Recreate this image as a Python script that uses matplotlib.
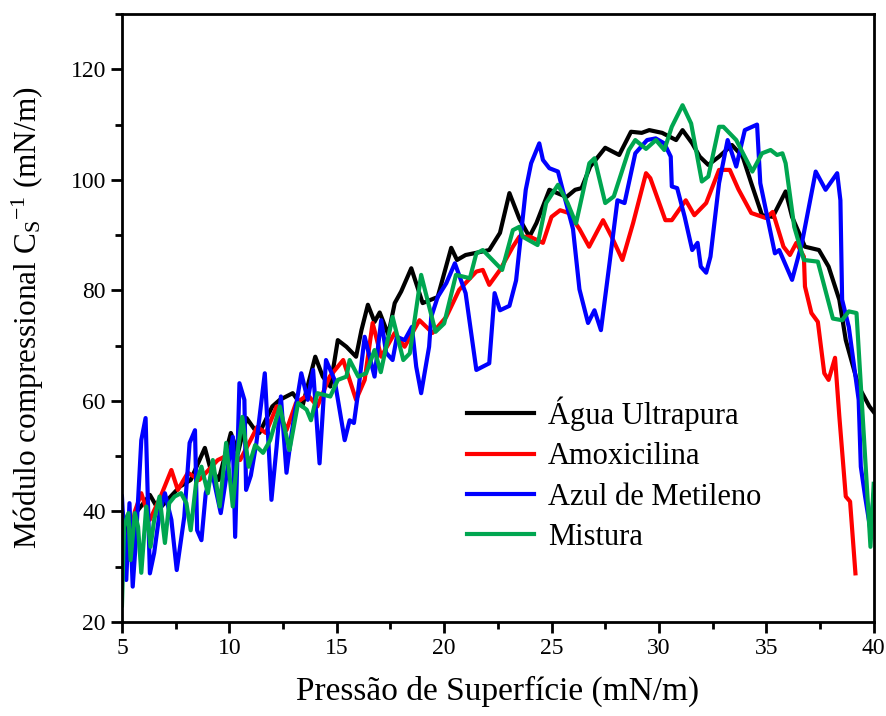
import numpy as np
import matplotlib
matplotlib.use('Agg')
import matplotlib.pyplot as plt
from matplotlib.ticker import MultipleLocator

plt.rcParams['font.family'] = ['Liberation Serif', 'DejaVu Serif']
plt.rcParams['mathtext.fontset'] = 'custom'
plt.rcParams['mathtext.rm'] = 'Liberation Serif'
plt.rcParams['mathtext.it'] = 'Liberation Serif'

# Água Ultrapura
x_agua = [5.0, 5.3, 5.7, 6.3, 6.7, 7.1, 7.7, 8.2, 8.86, 9.1, 9.5, 10.07, 10.4, 10.8, 11.2, 11.4, 12.0, 12.35,
          12.95, 13.4, 14.0, 14.35, 14.7, 15.05, 15.45, 15.9, 16.15, 16.45, 16.76, 17.0, 17.4, 17.7, 18.0, 18.47,
          19.0, 19.7, 20.33, 20.6, 21.0, 21.5, 22.1, 22.6, 23.04, 23.5, 23.97, 24.3, 24.9, 25.7, 26.1, 26.4, 26.8,
          27.5, 28.15, 28.7, 29.2, 29.55, 30.15, 30.8, 31.1, 31.55, 31.9, 32.3, 32.8, 33.4, 33.9, 34.3, 34.8, 35.3,
          35.9, 36.2, 36.8, 37.45, 37.9, 38.4, 38.7, 39.3, 39.8, 40.0]
y_agua = [40.2, 36, 40, 43, 40.3, 42, 44.5, 45.7, 51.5, 48, 45.7, 54.2, 50.6, 56.9, 54.7, 54.2, 59, 60.2,
          61.4, 59, 68, 64.4, 62.6, 71, 69.8, 68, 72.8, 77.4, 74.3, 76, 72, 77.7, 79.8, 84,
          77.7, 78.8, 87.7, 85.5, 86.4, 86.8, 87.3, 90.4, 97.6, 93, 89.7, 92.2, 98.2, 96.9, 98.2, 98.5, 102.4,
          105.8, 104.5, 108.7, 108.5, 109, 108.5, 107.2, 109, 106.6, 104.2, 102.7, 104.2, 106.3, 104.2, 99.4, 93.6, 93.3,
          97.9, 93.3, 87.9, 87.3, 84.3, 78.3, 71, 62.6, 59, 58]

# Amoxicilina
x_amox = [5.0, 5.3, 5.6, 5.9, 6.3, 6.8, 7.3, 7.6, 8.07, 8.6, 9.46, 10.15, 10.5, 11.0, 11.3, 11.7, 12.2, 12.66,
          13.1, 13.65, 14.1, 14.67, 15.3, 15.9, 16.3, 16.67, 17.07, 17.7, 18.16, 18.85, 19.46, 20.1, 20.7, 21.5,
          21.8, 22.1, 22.6, 23.2, 23.5, 24.0, 24.6, 25.0, 25.4, 25.8, 26.3, 26.75, 27.4, 27.8, 28.3, 28.8, 29.4,
          29.6, 30.3, 30.6, 31.25, 31.65, 32.2, 32.8, 33.3, 33.7, 34.3, 34.97, 35.3, 35.8, 36.1, 36.4, 36.75, 36.8,
          37.1, 37.4, 37.7, 37.9, 38.2, 38.4, 38.7, 38.9, 39.15]
y_amox = [38, 33, 40, 43.3, 38.5, 42.7, 47.5, 43.9, 47, 45.7, 49.3, 50.6, 49.3, 53, 55.3, 54.2, 59, 54.7,
          59.6, 61.1, 59, 64.4, 67.4, 60.2, 63.8, 74.1, 68, 72.3, 69.8, 74.6, 72.3, 75.2, 80.1, 83.4,
          83.7, 81, 83.7, 87.9, 89.7, 89.7, 88.6, 93.3, 94.5, 94, 91.1, 87.9, 92.7, 89.7, 85.5, 92.2, 101.2,
          100.3, 92.7, 92.7, 96.3, 93.6, 95.8, 101.8, 101.8, 98.3, 94, 93.1, 94.2, 87.9, 86.4, 88.6, 86.1, 80.7,
          75.9, 74.3, 65, 63.8, 67.8, 57.2, 42.7, 41.8, 28.8]

# Azul de Metileno
x_azul = [5.0, 5.2, 5.35, 5.5, 5.65, 5.9, 6.1, 6.3, 6.5, 6.75, 7.0, 7.3, 7.55, 7.9, 8.15, 8.4, 8.5, 8.7, 8.9,
          9.2, 9.6, 9.93, 10.16, 10.27, 10.47, 10.7, 10.78, 11.0, 11.26, 11.65, 11.96, 12.2, 12.4, 12.66, 12.9,
          13.35, 13.65, 13.9, 14.2, 14.5, 14.9, 15.37, 15.6, 15.8, 15.97, 16.3, 16.76, 17.07, 17.3, 17.6, 17.8,
          18.16, 18.5, 18.7, 18.93, 19.3, 19.4, 19.7, 20.1, 20.5, 21.0, 21.5, 22.1, 22.35, 22.6, 23.04, 23.35,
          23.8, 24.05, 24.43, 24.6, 24.9, 25.3, 25.6, 26.0, 26.3, 26.7, 27.0, 27.3, 27.7, 28.07, 28.4, 28.9,
          29.45, 29.85, 30.25, 30.55, 30.6, 30.85, 31.2, 31.55, 31.8, 31.95, 32.2, 32.4, 32.8, 33.2, 33.6, 34.0,
          34.57, 34.72, 35.4, 35.6, 36.2, 36.66, 37.3, 37.76, 38.3, 38.45, 38.53, 38.84, 39.3, 39.4, 39.6,
          39.85, 40.0]
y_azul = [42.7, 27.6, 41.5, 26.4, 34.8, 52.9, 56.9, 28.8, 32.5, 39.7, 43.3, 38.5, 29.4, 39, 52.4, 54.7, 36.6,
          34.8, 43.3, 47, 39.7, 48.1, 53.5, 35.4, 63.2, 60.2, 43.9, 46.5, 52.4, 65, 42.1, 51.7, 60.8, 47, 54.2,
          65, 60.2, 65.6, 48.7, 67.4, 63.8, 52.9, 56.5, 56, 60.8, 71.6, 64.4, 74.6, 68.7, 67.4, 71.6,
          71, 73.4, 66.2, 61.4, 69.8, 75.2, 78.8, 81.3, 84.9, 79.5, 65.6, 66.8, 79.5, 76.4, 77.2, 81.8,
          98.2, 103, 106.6, 103.6, 102.1, 101.5, 97, 91.1, 80.2, 74.1, 76.4, 72.8, 84.9, 96.3, 95.8, 104.8,
          107.2, 107.5, 106.6, 104.2, 98.8, 98.5, 93.3, 87.3, 88.6, 84.3, 83.2, 86.1, 99.4, 107.2, 102.4, 109,
          110, 99.4, 86.7, 87.3, 81.9, 88.6, 101.5, 98.2, 101.2, 96.3, 78.3, 73.4, 60.2, 48.1, 42.7,
          36.6, 43]

# Mistura
x_mist = [5.0, 5.1, 5.3, 5.4, 5.6, 5.75, 5.9, 6.13, 6.33, 6.5, 6.75, 7.0, 7.2, 7.45, 7.75, 8.0, 8.2, 8.45, 8.7,
          9.0, 9.23, 9.55, 9.85, 10.16, 10.4, 10.6, 10.9, 11.2, 11.57, 11.9, 12.35, 12.8, 13.2, 13.6, 13.8,
          14.1, 14.7, 15.05, 15.45, 15.6, 16.0, 16.37, 16.76, 17.05, 17.6, 18.1, 18.4, 18.93, 19.6, 20.0, 20.55,
          21.2, 21.5, 21.8, 22.7, 23.2, 23.5, 23.66, 24.35, 24.75, 25.3, 25.75, 26.14, 26.76, 27.0, 27.5, 27.9,
          28.6, 28.9, 29.4, 29.86, 30.25, 30.6, 31.1, 31.5, 32.0, 32.3, 32.8, 33.0, 33.6, 34.35, 34.8, 35.2,
          35.5, 35.75, 35.9, 36.3, 36.75, 37.4, 38.1, 38.53, 38.84, 39.2, 39.85, 40.0]
y_mist = [23, 37.2, 39.7, 31.2, 39.7, 37.2, 28.9, 40.9, 33.6, 38.5, 42.7, 34.3, 41.5, 42.7, 43.3, 41.5, 36.6,
          45.1, 48.1, 43.3, 49.3, 40.9, 52.4, 40.9, 51.1, 57.1, 48.1, 52, 50.6, 52.9, 59, 51.1, 59.6, 58.4, 56.5,
          61.4, 60.8, 63.8, 64.4, 67.4, 64.4, 65, 69.2, 65.2, 75.2, 67.4, 68.6, 82.8, 72.5, 74, 82.8,
          82.2, 86.7, 87.3, 83.7, 90.9, 91.5, 89.7, 88.2, 95.8, 99.1, 95.8, 92.1, 103, 103.9, 95.8, 97,
          105.4, 107.2, 105.6, 107.2, 105.4, 109.6, 113.5, 110.2, 99.7, 100.6, 109.6, 109.6, 107.2, 101.5, 104.8, 105.4,
          104.5, 104.8, 103, 91.5, 85.5, 85.2, 74.9, 74.6, 76.2, 75.9, 33.6, 45]

fig = plt.figure(figsize=(8.87, 7.16), dpi=100)
ax = fig.add_axes([0.1375, 0.1313, 0.8475, 0.8491])

ax.plot(x_agua, y_agua, color='black', lw=3, label='Água Ultrapura')
ax.plot(x_amox, y_amox, color='#ff0000', lw=3, label='Amoxicilina')
ax.plot(x_azul, y_azul, color='#0000ff', lw=3, label='Azul de Metileno')
ax.plot(x_mist, y_mist, color='#00a650', lw=3, label='Mistura')

ax.set_xlim(5, 40)
ax.set_ylim(20, 130)
ax.xaxis.set_major_locator(MultipleLocator(5))
ax.xaxis.set_minor_locator(MultipleLocator(2.5))
ax.yaxis.set_major_locator(MultipleLocator(20))
ax.yaxis.set_minor_locator(MultipleLocator(10))
ax.tick_params(which='major', direction='out', length=8, width=2, labelsize=17)
ax.tick_params(which='minor', direction='out', length=5, width=2)
for s in ax.spines.values():
    s.set_linewidth(2)

ax.set_xlabel('Pressão de Superfície (mN/m)', fontsize=24, labelpad=12)
ax.set_ylabel(r'Módulo compressional C$_\mathrm{S}$$^\mathrm{-1}$ (mN/m)', fontsize=22.5, labelpad=18)

ax.legend(loc='upper left', bbox_to_anchor=(0.422, 0.416), frameon=False, fontsize=22,
          handlelength=2.2, handletextpad=0.45, labelspacing=0.37)

fig.savefig('out.png', dpi=100)
